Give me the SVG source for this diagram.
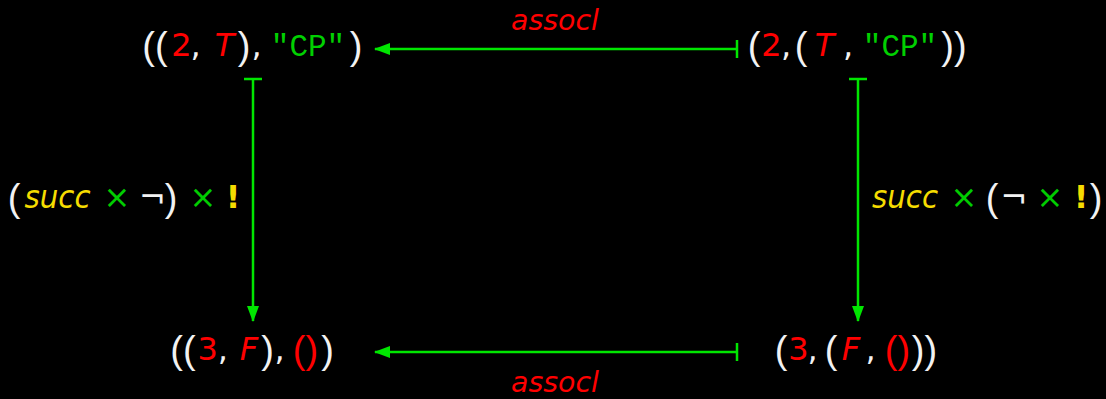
<svg xmlns="http://www.w3.org/2000/svg" width="1106" height="399" viewBox="0 0 1106 399">
<defs>
<style>
text { font-family: "DejaVu Sans", "Liberation Sans", sans-serif; text-anchor: middle; font-size: 32px; fill: #f2f2f2; }
.p { font-family: "Liberation Sans", "DejaVu Sans", sans-serif; font-size: 38px; }
.r { fill: #ff0000; }
.i { font-style: italic; }
.g { fill: #00cc00; }
.m { font-family: "Liberation Mono", "DejaVu Sans Mono", monospace; font-size: 31px; fill: #00d000; }
.y { fill: #f5dc00; }
.b { font-weight: bold; }
.s { text-anchor: start; }
.lbl { font-size: 28px; font-style: italic; fill: #ff0000; }
.conn { stroke: #00e600; stroke-width: 2.5; fill: none; }
</style>
<marker id="head" viewBox="0 0 16 12" refX="15" refY="6" markerWidth="16" markerHeight="12" markerUnits="userSpaceOnUse" orient="auto">
<path d="M0,0 L16,6 L0,12 z" fill="#00e600"/>
</marker>
<marker id="bar" viewBox="0 0 4 20" refX="2" refY="10" markerWidth="4" markerHeight="20" markerUnits="userSpaceOnUse" orient="auto">
<path d="M2,1 L2,19" stroke="#00e600" stroke-width="2.5"/>
</marker>
</defs>
<rect width="1106" height="399" fill="#000"/>

<g id="connectors">
<path class="conn" d="M737,49 L375,49" marker-start="url(#bar)" marker-end="url(#head)"/>
<path class="conn" d="M737,352 L375,352" marker-start="url(#bar)" marker-end="url(#head)"/>
<path class="conn" d="M253,79 L253,321" marker-start="url(#bar)" marker-end="url(#head)"/>
<path class="conn" d="M858,79 L858,321" marker-start="url(#bar)" marker-end="url(#head)"/>
<text class="lbl" x="555" y="30" textLength="88" lengthAdjust="spacingAndGlyphs">assocl</text>
<text class="lbl" x="555" y="392" textLength="88" lengthAdjust="spacingAndGlyphs">assocl</text>
</g>

<g id="n-top-left">
<text class="p" x="155" y="59">((</text>
<text class="r" x="181.5" y="56">2</text>
<text x="195.5" y="56">,</text>
<text class="r i" x="224.5" y="56">T</text>
<text class="p" x="244" y="59">)</text>
<text x="256.5" y="56">,</text>
<text class="m" x="308" y="56">"CP"</text>
<text class="p" x="356" y="59">)</text>
</g>

<g id="n-top-right">
<text class="p" x="754" y="59">(</text>
<text class="r" x="771.5" y="56">2</text>
<text x="786" y="56">,</text>
<text class="p" x="801" y="59">(</text>
<text class="r i" x="824.5" y="56">T</text>
<text x="848" y="56">,</text>
<text class="m" x="900" y="56">"CP"</text>
<text class="p" x="954" y="59">))</text>
</g>

<g id="n-bottom-left">
<text class="p" x="183" y="363">((</text>
<text class="s" x="197.5" y="360"><tspan class="r">3</tspan>,</text>
<text class="r i" x="249" y="360">F</text>
<text class="p" x="267.5" y="363">)</text>
<text x="279.5" y="360">,</text>
<text class="p r" x="305.5" y="363">()</text>
<text class="p" x="327.5" y="363">)</text>
</g>

<g id="n-bottom-right">
<text class="p" x="781" y="363">(</text>
<text class="r" x="798.5" y="360">3</text>
<text x="812.5" y="360">,</text>
<text class="p" x="831" y="363">(</text>
<text class="r i" x="851" y="360">F</text>
<text x="870.5" y="360">,</text>
<text class="p r" x="897.5" y="363">()</text>
<text class="p" x="924.5" y="363">))</text>
</g>

<g id="label-left">
<text class="p" x="14" y="211">(</text>
<text class="y i" x="57.5" y="208" textLength="66" lengthAdjust="spacingAndGlyphs">succ</text>
<text class="g" x="117" y="208">×</text>
<text x="152.5" y="208">¬</text>
<text class="p" x="171" y="211">)</text>
<text class="g" x="203" y="208">×</text>
<text class="y b" x="233" y="208">!</text>
</g>

<g id="label-right">
<text class="y i" x="905" y="208" textLength="66" lengthAdjust="spacingAndGlyphs">succ</text>
<text class="g" x="964" y="208">×</text>
<text class="p" x="992" y="211">(</text>
<text x="1014" y="208">¬</text>
<text class="g" x="1050" y="208">×</text>
<text class="y b" x="1081" y="208">!</text>
<text class="p" x="1096" y="211">)</text>
</g>
</svg>
